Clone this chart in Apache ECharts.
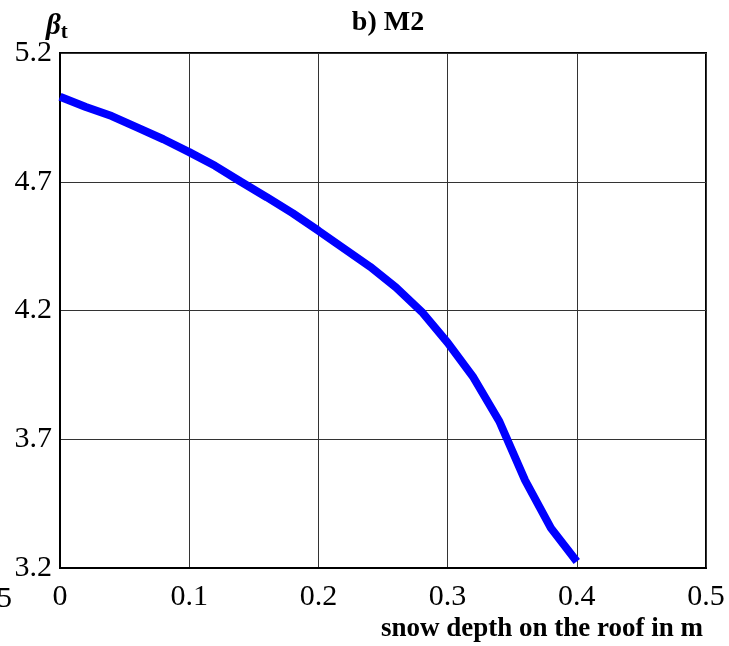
<!DOCTYPE html>
<html>
<head>
<meta charset="utf-8">
<script src="https://cdn.jsdelivr.net/npm/echarts@6/dist/echarts.min.js"></script>
<style>html,body{margin:0;padding:0;background:#fff}#c{width:729px;height:646px}</style>
</head>
<body>
<div id="c"></div>
<script>
var snowDepth = [0, 0.02, 0.04, 0.06, 0.08, 0.10, 0.12, 0.14, 0.16, 0.18, 0.20, 0.22, 0.24, 0.26, 0.28, 0.30, 0.32, 0.34, 0.36, 0.38, 0.40];
var betaT = [5.03, 4.99, 4.955, 4.91, 4.865, 4.815, 4.762, 4.70, 4.64, 4.578, 4.51, 4.44, 4.37, 4.29, 4.195, 4.075, 3.94, 3.77, 3.54, 3.355, 3.225];
var xTicks = {min: 0, max: 0.5, interval: 0.1};
var yTicks = {min: 3.2, max: 5.2, interval: 0.5};

var chart = echarts.init(document.getElementById('c'));
var font = '"Liberation Serif", "Times New Roman", serif';
chart.setOption({
  animation: false,
  backgroundColor: '#fff',
  graphic: [
    {type: 'text', x: 388, y: 23, style: {
      text: 'b) M2', fontFamily: font, fontSize: 28, fontWeight: 'bold', fill: '#000',
      align: 'center', verticalAlign: 'middle'
    }},
    {type: 'text', x: 46, y: 27, style: {
      text: '{b|β}{s|t}', fontFamily: font, verticalAlign: 'middle',
      rich: {b: {fontFamily: font, fontSize: 29, fontWeight: 'bold', fontStyle: 'italic', fill: '#000'},
             s: {fontFamily: font, fontSize: 21, fontWeight: 'bold', fill: '#000', padding: [12, 0, 0, 0]}}
    }},
    {type: 'text', x: 12, y: 599, style: {text: '5', fontFamily: font, fontSize: 30, fill: '#000', align: 'right', verticalAlign: 'middle'}},
    {type: 'text', x: 703, y: 629, style: {
      text: 'snow depth on the roof in m', fontFamily: font, fontSize: 27, fontWeight: 'bold', fill: '#000',
      align: 'right', verticalAlign: 'middle'
    }}
  ],
  grid: {left: 60, right: 23, top: 53, bottom: 78, show: true, borderColor: '#000', borderWidth: 2, backgroundColor: 'transparent'},
  xAxis: {
    type: 'value', min: xTicks.min, max: xTicks.max, interval: xTicks.interval,
    axisLine: {show: true, lineStyle: {color: '#000', width: 2}},
    axisTick: {show: false},
    splitLine: {show: true, lineStyle: {color: '#333', width: 1}},
    axisLabel: {fontFamily: font, fontSize: 30, color: '#000', margin: 14,
      formatter: function (v) { return v === 0 ? '0' : v.toFixed(1); }}
  },
  yAxis: {
    type: 'value', min: yTicks.min, max: yTicks.max, interval: yTicks.interval,
    axisLine: {show: true, lineStyle: {color: '#000', width: 2}},
    axisTick: {show: false},
    splitLine: {show: true, lineStyle: {color: '#333', width: 1}},
    axisLabel: {fontFamily: font, fontSize: 30, color: '#000', margin: 8, padding: [6, 0, 0, 0],
      formatter: function (v) { return v.toFixed(1); }}
  },
  series: [{
    type: 'line',
    data: snowDepth.map(function (x, i) { return [x, betaT[i]]; }),
    showSymbol: false,
    lineStyle: {color: '#0000ff', width: 8},
    itemStyle: {color: '#0000ff'}
  }]
});
</script>
</body>
</html>
